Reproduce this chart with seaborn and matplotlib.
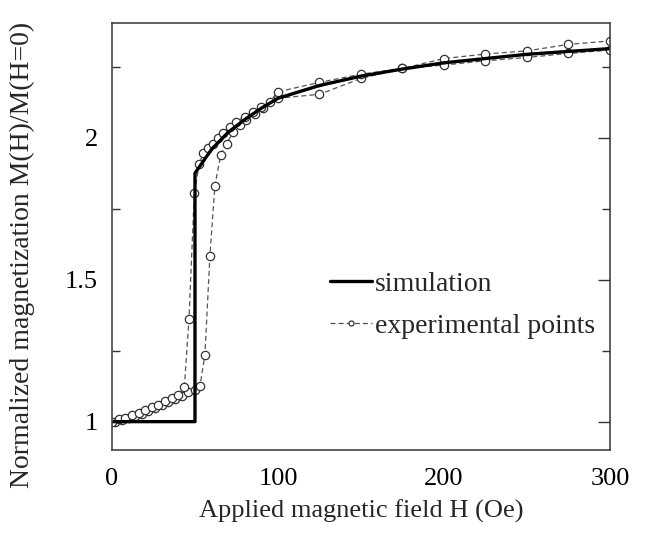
import numpy as np
import pandas as pd
import matplotlib
matplotlib.use("Agg")
import matplotlib.pyplot as plt
import seaborn as sns
from matplotlib.ticker import MultipleLocator

sns.set_theme(style="white")
plt.rcParams['font.family'] = ['Liberation Serif', 'DejaVu Serif']

# Simulation curve
sim_h = [0, 50, 50, 60, 70, 80, 90, 100, 125, 150, 175, 200, 250, 300]
sim_m = [1.0, 1.0, 1.876, 1.96, 2.02, 2.065, 2.105, 2.14, 2.185, 2.218, 2.243, 2.265, 2.295, 2.315]

# Experimental points, increasing-field branch
exp_up_h = [2, 6, 10, 14, 18, 22, 26, 30, 34, 38, 42, 46, 50, 53, 56, 59, 62, 65.5, 69,
            73, 77, 81, 86, 91, 100, 125, 150, 175, 200, 225, 250, 275, 300]
exp_up_m = [1.0, 1.005, 1.012, 1.02, 1.028, 1.037, 1.047, 1.058, 1.068, 1.08, 1.092, 1.103,
            1.11, 1.125, 1.236, 1.585, 1.832, 1.94, 1.98, 2.02, 2.045, 2.065, 2.085, 2.105,
            2.14, 2.154, 2.21, 2.245, 2.257, 2.272, 2.284, 2.298, 2.31]

# Experimental points, decreasing-field branch
exp_dn_h = [0, 4, 8, 12, 16, 20, 24, 28, 32, 36, 40, 43.6, 46.4, 49.6, 52.6, 55, 58, 61, 64,
            67, 71, 75, 80, 85, 90, 95, 100, 125, 150, 175, 200, 225, 250, 275, 300]
exp_dn_m = [1.0, 1.008, 1.014, 1.022, 1.03, 1.04, 1.05, 1.06, 1.072, 1.083, 1.095, 1.122,
            1.363, 1.805, 1.91, 1.946, 1.963, 1.98, 1.999, 2.017, 2.04, 2.057, 2.075, 2.093,
            2.11, 2.128, 2.163, 2.196, 2.225, 2.245, 2.28, 2.296, 2.307, 2.33, 2.342]

fig = plt.figure(figsize=(6.51, 5.37), dpi=100)
ax = fig.add_axes([0.172, 0.162, 0.765, 0.795])

dash_color = "#555555"
for hh, mm, lab in [(exp_up_h, exp_up_m, "experimental points"), (exp_dn_h, exp_dn_m, None)]:
    df = pd.DataFrame({"H": hh, "M": mm})
    sns.lineplot(data=df, x="H", y="M", ax=ax, sort=False, estimator=None,
                 color=dash_color, lw=0.9, linestyle=(0, (4, 2.5)),
                 marker="o", markersize=6, markerfacecolor="white",
                 markeredgecolor="#333333", markeredgewidth=0.9, label=lab)

df_sim = pd.DataFrame({"H": sim_h, "M": sim_m})
sns.lineplot(data=df_sim, x="H", y="M", ax=ax, sort=False, estimator=None,
             color="black", lw=2.4, label="simulation")

ax.set_xlim(0, 300)
ax.set_ylim(0.9, 2.405)
ax.xaxis.set_major_locator(MultipleLocator(100))
ax.yaxis.set_minor_locator(MultipleLocator(0.25))
ax.set_yticks([1, 1.5, 2])
ax.set_yticklabels(["1", "1.5", "2"])
ax.tick_params(axis="both", which="major", direction="in", length=9, width=1.0,
               labelsize=19, colors="#333333", labelcolor="black", pad=10)
ax.tick_params(axis="y", which="minor", direction="in", length=6, width=1.0,
               left=True, right=True, colors="#333333")
ax.tick_params(axis="y", which="both", right=True)
ax.tick_params(axis="x", which="major", pad=13)

for s in ax.spines.values():
    s.set_color("#444444")
    s.set_linewidth(1.2)

ax.set_xlabel("Applied magnetic field H (Oe)", fontsize=19, labelpad=7)
ax.set_ylabel("Normalized magnetization M(H)/M(H=0)", fontsize=20)
ax.yaxis.set_label_coords(-0.155, 0.457)

handles, labels = ax.get_legend_handles_labels()
order = [labels.index("simulation"), labels.index("experimental points")]
leg = ax.legend([handles[i] for i in order], [labels[i] for i in order],
                loc="upper left", bbox_to_anchor=(0.416, 0.445), frameon=False,
                fontsize=20, handlelength=1.5, handletextpad=0.1, markerscale=0.6,
                labelspacing=0.6, borderaxespad=0)

fig.savefig("out.png", dpi=100)
